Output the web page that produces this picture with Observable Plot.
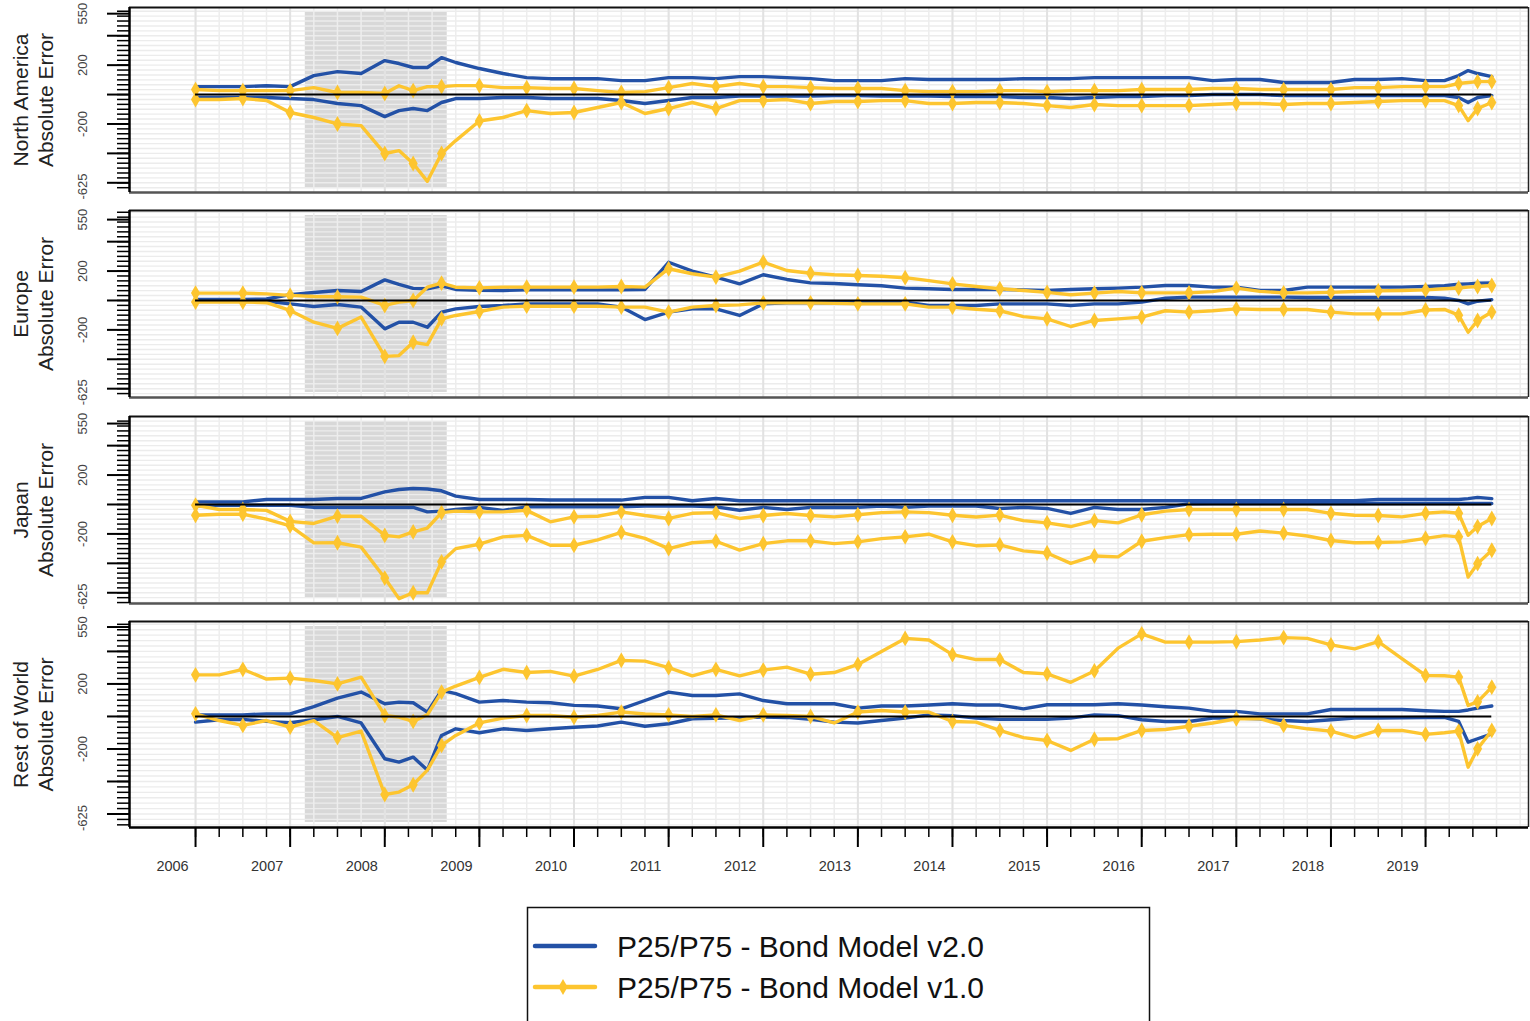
<!DOCTYPE html>
<html><head><meta charset="utf-8">
<script src="https://cdn.jsdelivr.net/npm/d3@7"></script>
<script src="https://cdn.jsdelivr.net/npm/@observablehq/plot@0.6"></script>
<style>
body{margin:0;background:#fff;}
#chart{position:relative;width:1530px;height:1021px;overflow:hidden;background:#fff;font-family:"Liberation Sans",Arial,sans-serif;}
#chart svg{position:absolute;left:0;overflow:visible;}
</style></head><body><div id="chart"></div>
<script>
// ---- data ----
const dates = [2006,2006.25,2006.5,2006.75,2007,2007.25,2007.5,2007.75,2008,2008.15,2008.3,2008.45,2008.6,2008.75,
 2009,2009.25,2009.5,2009.75,2010,2010.25,2010.5,2010.75,2011,2011.25,2011.5,2011.75,2012,2012.25,2012.5,2012.75,
 2013,2013.25,2013.5,2013.75,2014,2014.25,2014.5,2014.75,2015,2015.25,2015.5,2015.75,2016,2016.25,2016.5,2016.75,
 2017,2017.25,2017.5,2017.75,2018,2018.25,2018.5,2018.75,2019,2019.2,2019.35,2019.45,2019.55,2019.7];

const naV2Upper = [54,54,54,60,54,129,156,143,231,211, 184,184,251,218,177,143,115,108,108,108, 95,95,115,115,108,122,122,115,108,95, 95,95,108,102,102,102,102,108,108,108, 115,115,115,115,115,95,102,102,82,82, 82,102,102,108,95,95,129,163,143,122];
const naV2Lower = [-20,-20,-20,-20,-27,-34,-61,-75,-150,-109, -95,-109,-54,-27,-27,-20,-20,-27,-27,-27, -40,-61,-40,-20,-20,-10,-10,-10,-10,-7, -7,-10,-10,-10,-14,-14,-14,-20,-20,-27, -20,-14,-14,-7,-7,0,0,0,-7,-7, -7,-7,-7,-7,-7,-7,-20,-54,-20,-7];
const naV1Upper = [34,27,27,27,27,47,14,14,7,60, 27,54,54,61,61,47,47,41,41,27, 14,20,47,75,54,75,54,54,47,41, 41,41,27,20,20,20,27,27,20,27, 27,27,34,34,34,41,41,34,34,34, 34,47,47,54,54,54,75,82,88,88];
const naV1Lower = [-34,-34,-27,-40,-122,-156,-200,-211,-401,-381, -469,-590,-401,-313,-180,-156,-109,-129,-122,-88, -54,-129,-95,-54,-95,-41,-41,-34,-61,-47, -47,-41,-41,-61,-61,-54,-54,-61,-75,-88, -68,-75,-75,-75,-75,-68,-61,-61,-68,-61, -61,-54,-47,-41,-41,-41,-75,-177,-95,-54];

const euV2Upper = [7,7,7,10,40,54,68,61,140,109, 82,80,100,75,70,68,72,72,72,72, 72,75,260,200,159,113,175,143,120,115, 107,100,84,80,75,75,75,72,68,75, 80,84,91,102,102,91,91,68,68,91, 91,91,91,91,95,100,110,113,117,120];
const euV2Lower = [0,0,0,-5,-23,-41,-27,-45,-193,-148, -148,-182,-79,-57,-41,-34,-23,-23,-23,-23, -45,-130,-79,-57,-57,-102,-23,-16,-16,-16, -11,-11,-11,-34,-34,-34,-23,-23,-23,-34, -23,-23,-11,15,23,23,23,23,23,20, 20,20,20,20,20,15,0,-23,-5,5];
const euV1Upper = [50,50,50,45,35,27,25,23,-34,-11, 0,90,118,90,86,91,91,91,91,91, 95,91,216,182,159,200,261,204,185,175, 170,165,155,135,113,95,80,68,55,39, 50,61,52,52,52,60,84,62,52,52, 55,61,65,68,72,80,85,91,95,102];
const euV1Lower = [-11,-11,-11,-15,-68,-148,-190,-113,-380,-375, -284,-300,-125,-102,-75,-45,-39,-39,-39,-39, -45,-45,-79,-45,-34,-30,-16,-16,-16,-20, -23,-23,-23,-45,-45,-60,-70,-110,-125,-177, -136,-125,-113,-70,-79,-70,-57,-61,-61,-61, -79,-91,-91,-91,-65,-61,-100,-216,-136,-79];

const jpV2Upper = [18,18,18,34,34,34,41,41,86,102, 109,105,93,57,34,34,34,30,30,30, 30,48,48,25,41,25,25,25,25,25, 25,25,25,25,25,25,25,25,25,25, 25,25,25,25,25,25,25,25,25,25, 25,25,34,34,34,34,34,40,48,40];
const jpV2Lower = [-10,-5,-5,-5,-5,-20,-20,-20,-20,-20, -20,-50,-45,-34,-20,-40,-16,-16,-16,-16, -16,-10,-10,-10,-16,-39,-20,-34,-20,-20, -20,-10,-20,-10,-10,-10,-27,-20,-27,-61, -20,-34,-34,-20,5,7,7,7,7,7, 7,7,7,7,7,7,7,7,7,7];
const jpV1Upper = [-5,-34,-34,-40,-115,-129,-79,-80,-210,-220, -186,-160,-55,-45,-50,-50,-40,-118,-84,-80, -50,-75,-95,-60,-55,-95,-75,-61,-75,-84, -70,-55,-50,-55,-73,-85,-72,-110,-125,-150, -110,-125,-70,-45,-34,-34,-34,-34,-34,-34, -60,-73,-75,-84,-60,-50,-60,-209,-150,-95];
const jpV1Lower = [-73,-66,-66,-100,-145,-261,-260,-290,-500,-640, -600,-600,-390,-300,-270,-220,-210,-277,-277,-240, -190,-230,-300,-260,-250,-310,-266,-247,-247,-266, -254,-232,-220,-202,-254,-280,-275,-315,-330,-400, -350,-356,-250,-225,-205,-202,-202,-180,-195,-214, -245,-260,-258,-254,-230,-212,-220,-493,-402,-311];

const rwV2Upper = [10,10,10,16,16,60,113,150,78,88, 84,27,160,140,88,98,88,84,68,64, 47,98,150,129,129,139,98,78,78,78, 51,64,64,70,78,70,70,47,72,72, 72,78,70,60,51,31,31,16,16,16, 43,43,43,43,35,31,31,40,51,64];
const rwV2Lower = [-35,-20,-18,-30,-39,-20,0,-40,-260,-281, -250,-330,-117,-76,-100,-76,-86,-76,-66,-59, -35,-60,-45,-14,-12,-8,-4,-6,-18,-35, -40,-25,-10,10,5,-10,-18,-18,-18,-10, 10,5,-20,-31,-31,-10,-10,-15,-25,-31, -20,-10,-10,-8,-6,-5,-30,-158,-137,-107];
const rwV1Upper = [256,256,290,230,236,221,200,242,6,-4, -30,10,150,187,240,290,270,277,248,289, 345,340,300,250,290,250,285,303,260,270, 320,400,480,470,380,350,350,270,262,210, 280,420,508,457,457,457,460,470,485,480, 440,416,460,355,252,250,242,68,90,180];
const rwV1Lower = [16,-25,-55,-25,-66,-25,-130,-90,-480,-465, -420,-330,-178,-117,-40,-10,6,6,-5,6, 27,15,10,0,10,-25,10,6,0,-40, 27,37,27,27,-31,-35,-86,-130,-148,-209, -140,-137,-86,-80,-60,-40,-14,-14,-55,-76, -90,-130,-86,-86,-110,-100,-90,-312,-199,-86];

const regionTitles = ["North America\nAbsolute Error","Europe\nAbsolute Error","Japan\nAbsolute Error","Rest of World\nAbsolute Error"];
const yTickLabels = [550, 200, -200, -625];
const yMajorTicks = [550, 400, 200, 0, -200, -400, -600];
const yearLabels = [2006,2007,2008,2009,2010,2011,2012,2013,2014,2015,2016,2017,2018,2019];
const recession = [2007.16, 2008.66];
const legendLabels = ["P25/P75 - Bond Model v2.0", "P25/P75 - Bond Model v1.0"];

// ---- layout / style ----
const BLUE = "#2351a6", YELLOW = "#fdc52f";
const xDomain = [2005.302, 2020.088];
const quarterTicks = d3.range(2006, 2019.76, 0.25);
const qGrid = d3.range(2006, 2020.01, 0.25);
const yMinor = d3.range(-20, 19).map(k => k * 100 / 3);
const layout = [
  {top: 7, h: 185, y: [-666, 592]},
  {top: 210, h: 187, y: [-660, 612]},
  {top: 416, h: 187, y: [-673, 598]},
  {top: 621, h: 206, y: [-683, 584]}
];
const series = [
  [naV2Upper, naV2Lower, naV1Upper, naV1Lower],
  [euV2Upper, euV2Lower, euV1Upper, euV1Lower],
  [jpV2Upper, jpV2Lower, jpV1Upper, jpV1Lower],
  [rwV2Upper, rwV2Lower, rwV1Upper, rwV1Lower]
];
const chart = document.getElementById("chart");
const lastIdx = dates.length - 1;

layout.forEach((L, i) => {
  const last = i === 3;
  const mT = 12, mB = last ? 70 : 12;
  const rows = a => dates.map((d, k) => ({d, v: a[k], k}));
  const [v2u, v2l, v1u, v1l] = series[i];
  const inDom = v => v >= L.y[0] && v <= L.y[1];
  const marks = [
    Plot.rect([recession], {x1: d => d[0], x2: d => d[1], fill: "#d8d8d8", insetTop: 5, insetBottom: 5}),
    Plot.ruleY(yMinor.filter(inDom), {stroke: "#ececec", strokeWidth: 1.4}),
    Plot.ruleX(qGrid, {stroke: "#ededed", strokeWidth: 1.5}),
    Plot.ruleX(yearLabels, {stroke: "#e2e2e2", strokeWidth: 2}),
    Plot.line(rows(v2u), {x: "d", y: "v", stroke: BLUE, strokeWidth: 3.4}),
    Plot.line(rows(v2l), {x: "d", y: "v", stroke: BLUE, strokeWidth: 3.4}),
    Plot.line(rows(v1u), {x: "d", y: "v", stroke: YELLOW, strokeWidth: 3.4}),
    Plot.line(rows(v1l), {x: "d", y: "v", stroke: YELLOW, strokeWidth: 3.4}),
    Plot.dot(rows(v1u).filter(r => r.k % 2 === 0 || r.k === lastIdx), {x: "d", y: "v", symbol: "diamond", r: 4.8, fill: YELLOW, stroke: "none"}),
    Plot.dot(rows(v1l).filter(r => r.k % 2 === 0 || r.k === lastIdx), {x: "d", y: "v", symbol: "diamond", r: 4.8, fill: YELLOW, stroke: "none"}),
    Plot.ruleY([0], {x1: () => dates[0], x2: () => dates[lastIdx], stroke: "#000", strokeWidth: 2}),
    Plot.ruleY([L.y[1]], {stroke: "#111", strokeWidth: 2}),
    Plot.ruleY([L.y[0]], {stroke: last ? "#000" : "#555", strokeWidth: 2.5}),
    Plot.ruleX([xDomain[0]], {stroke: "#000", strokeWidth: 2.5}),
    Plot.ruleX([xDomain[1]], {stroke: "#222", strokeWidth: 1.5}),
    Plot.axisY({ticks: yMajorTicks, tickSize: 22, tickFormat: () => "", strokeWidth: 2, label: null}),
    Plot.axisY({ticks: yMinor.filter(inDom), tickSize: 12, tickFormat: () => "", strokeWidth: 1.5, label: null}),
    Plot.text(yTickLabels, {y: d => d, text: d => String(d), frameAnchor: "left", textAnchor: "middle", lineAnchor: "middle", dx: -47, rotate: -90, fontSize: 13, fill: "#444"}),
    Plot.text([regionTitles[i]], {frameAnchor: "left", textAnchor: "middle", lineAnchor: "middle", dx: -97, rotate: -90, fontSize: 21, lineHeight: 1.2, fill: "#222"})
  ];
  if (last) {
    marks.push(
      Plot.axisX({ticks: yearLabels, tickSize: 20, tickFormat: () => "", strokeWidth: 2, label: null}),
      Plot.axisX({ticks: quarterTicks, tickSize: 10, tickFormat: () => "", strokeWidth: 1.5, label: null}),
      Plot.text(yearLabels, {x: d => d, text: d => String(d), frameAnchor: "bottom", lineAnchor: "middle", dy: 39, dx: -23, fontSize: 14.5, fill: "#333"})
    );
  }
  const svg = Plot.plot({
    width: 1530, height: L.h + mT + mB,
    marginLeft: 129, marginRight: 2, marginTop: mT, marginBottom: mB,
    style: {fontFamily: "Liberation Sans, Arial, sans-serif", background: "transparent", overflow: "visible"},
    x: last ? {domain: xDomain} : {domain: xDomain, axis: null},
    y: {domain: L.y},
    marks
  });
  svg.style.top = (L.top - mT) + "px";
  chart.appendChild(svg);
});

// ---- legend ----
const leg = d3.select(chart).append("svg").attr("width", 1530).attr("height", 1021).style("top", "0px");
leg.append("rect").attr("x", 527.5).attr("y", 907.5).attr("width", 622).attr("height", 140)
  .attr("fill", "white").attr("stroke", "#111").attr("stroke-width", 1.5);
const legColors = [BLUE, YELLOW];
legendLabels.forEach((t, j) => {
  const yy = 946 + j * 41;
  leg.append("line").attr("x1", 535).attr("x2", 595).attr("y1", yy).attr("y2", yy)
    .attr("stroke", legColors[j]).attr("stroke-width", 4.5).attr("stroke-linecap", "round");
  if (j === 1) leg.append("path").attr("d", d3.symbol(d3.symbolDiamond, Math.PI * 4.8 * 4.8)())
    .attr("transform", `translate(563,${yy})`).attr("fill", YELLOW);
  leg.append("text").attr("x", 617).attr("y", yy).attr("dy", "0.36em")
    .attr("font-size", 30).attr("fill", "#111").attr("font-family", "Liberation Sans, Arial, sans-serif").text(t);
});
</script></body></html>
